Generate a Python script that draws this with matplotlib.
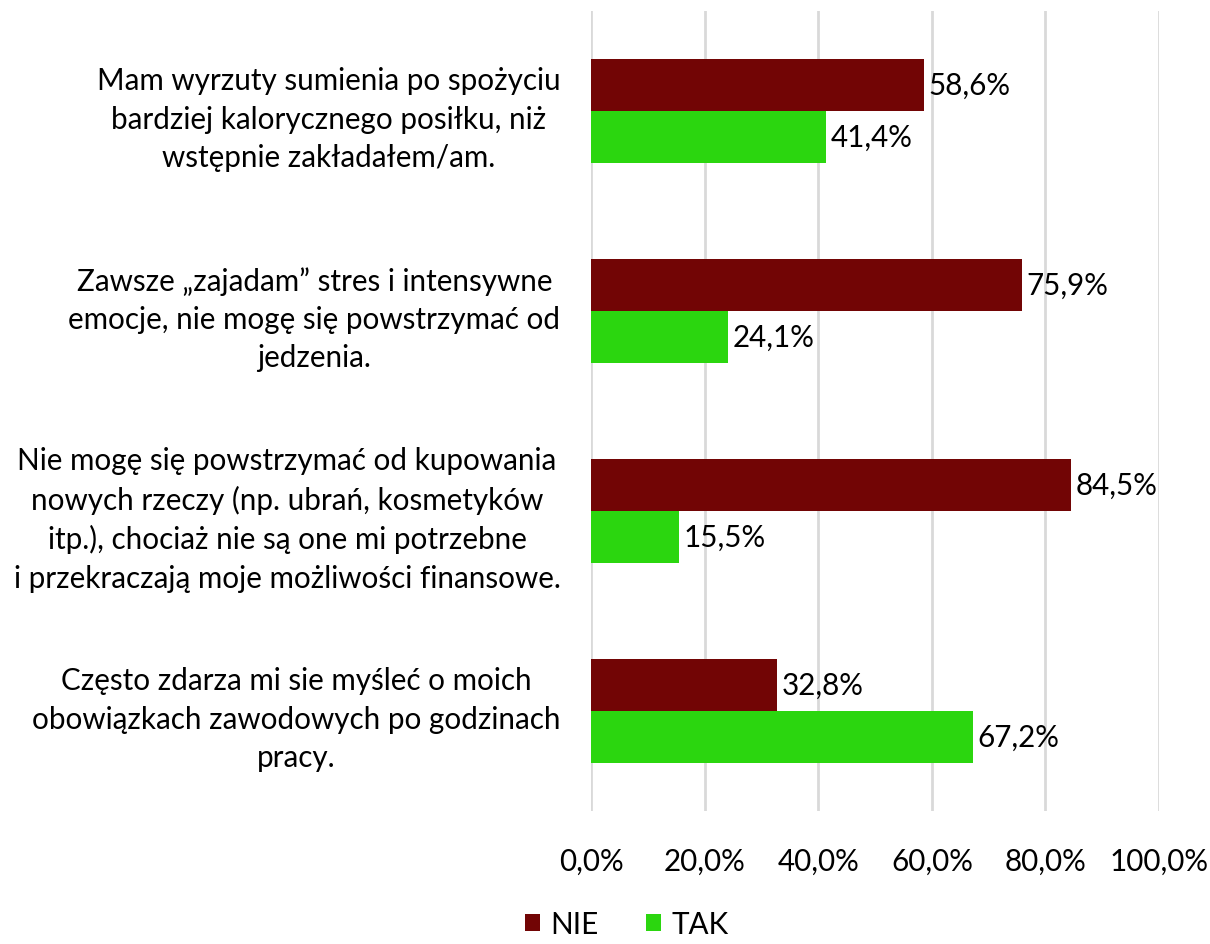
import matplotlib.pyplot as plt
import numpy as np

plt.rcParams['font.family'] = ['Lato', 'DejaVu Sans']

# dane
pytania = [
    "Mam wyrzuty sumienia po spożyciu\nbardziej kalorycznego posiłku, niż\nwstępnie zakładałem/am.",
    "Zawsze \u201ezajadam\u201d stres i intensywne\nemocje, nie mogę się powstrzymać od\njedzenia.",
    "Nie mogę się powstrzymać od kupowania\nnowych rzeczy (np. ubrań, kosmetyków\nitp.), chociaż nie są one mi potrzebne\ni przekraczają moje możliwości finansowe.",
    "Często zdarza mi sie myśleć o moich\nobowiązkach zawodowych po godzinach\npracy.",
]
nie = [58.6, 75.9, 84.5, 32.8]
tak = [41.4, 24.1, 15.5, 67.2]

kolor_nie = '#720505'
kolor_tak = '#2bd60f'
fs = 21.3

fig = plt.figure(figsize=(12.1, 9.45), dpi=100)
ax = fig.add_axes([0.4884, 0.1407, 0.4695, 0.8466])

y = np.arange(len(pytania))
h = 0.26
b1 = ax.barh(y - h / 2, nie, height=h, color=kolor_nie, label='NIE', zorder=3)
b2 = ax.barh(y + h / 2, tak, height=h, color=kolor_tak, label='TAK', zorder=3)

for bars in (b1, b2):
    for bar in bars:
        w = bar.get_width()
        ax.text(w + 0.8, bar.get_y() + bar.get_height() / 2,
                f"{w:.1f}%".replace('.', ','), va='center', ha='left', fontsize=fs)

ax.set_xlim(0, 100)
ax.set_ylim(3.5, -0.5)
ax.set_xticks(range(0, 101, 20))
ax.set_xticklabels([f"{v},0%" for v in range(0, 101, 20)], fontsize=fs)
ax.set_yticks(y)
ax.set_yticklabels(pytania, fontsize=fs, ha='right', multialignment='center',
                   linespacing=1.45)
ax.tick_params(axis='both', length=0)
ax.tick_params(axis='y', pad=22)
ax.tick_params(axis='x', pad=26)
ax.xaxis.grid(True, color='#d9d9d9', linewidth=2, zorder=0)
for s in ax.spines.values():
    s.set_visible(False)

fig.legend(handles=[b1, b2], labels=['NIE', 'TAK'], loc='lower center',
           bbox_to_anchor=(0.518, -0.022), ncol=2, frameon=False, fontsize=fs,
           handlelength=0.5, handleheight=0.5, columnspacing=1.6, handletextpad=0.35)

fig.savefig("out.png", dpi=100)
